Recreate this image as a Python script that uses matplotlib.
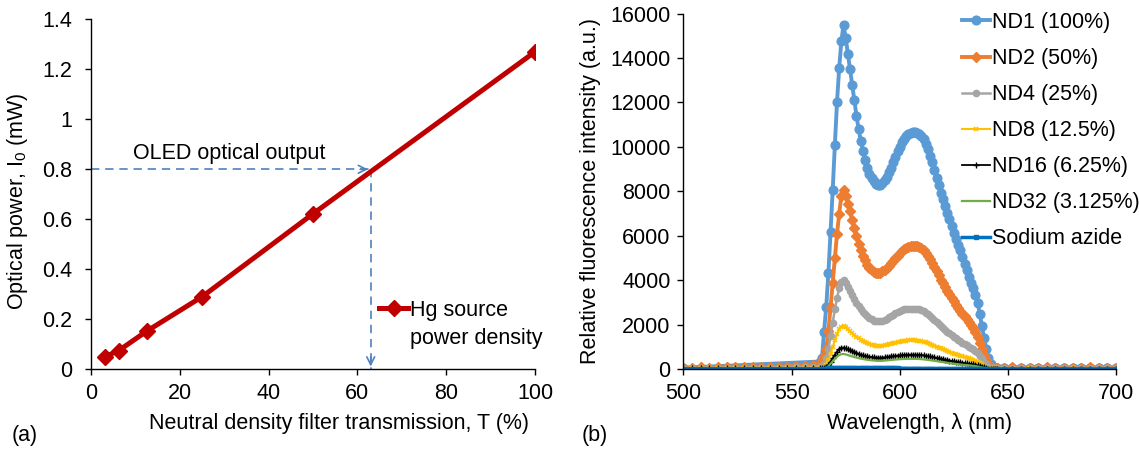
import numpy as np
import matplotlib
matplotlib.use("Agg")
from matplotlib import pyplot as plt

plt.rcParams['font.family'] = ['Liberation Sans', 'DejaVu Sans']
plt.rcParams['mathtext.fontset'] = 'custom'
plt.rcParams['mathtext.rm'] = 'Liberation Sans'
plt.rcParams['font.size'] = 15.5

# (a) optical power vs ND filter transmission
transmission = [3.125, 6.25, 12.5, 25, 50, 100]
power_mw = [0.05, 0.075, 0.152, 0.29, 0.622, 1.27]
oled_power = 0.8
oled_transmission = 63

# (b) fluorescence spectra, 1 nm steps across the emission band
wl_band = np.arange(563, 646)
wl_left = [500, 504, 508, 512, 516, 520, 524, 528, 532, 536, 540, 544, 548, 552, 556, 560]
wl_right = [648, 652, 656, 660, 664, 668, 672, 676, 680, 684, 688, 692, 696, 700]

nd1_band = [350, 490, 1690, 2810, 4330, 6170, 8070, 10100, 12040, 13560, 14760, 15500, 14900,
            14200, 13500, 12800, 12100, 11400, 10800, 10250, 9800, 9400, 9050, 8800, 8600, 8450,
            8330, 8280, 8300, 8380, 8500, 8650, 8850, 9050, 9300, 9550, 9800, 10000, 10200, 10350,
            10480, 10560, 10620, 10650, 10650, 10640, 10600, 10500, 10350, 10150, 9900, 9600, 9300,
            8950, 8600, 8300, 7950, 7650, 7350, 7050, 6750, 6450, 6150, 5850, 5600, 5350, 5050,
            4750, 4450, 4150, 3900, 3650, 3350, 3000, 2500, 1950, 1400, 900, 500, 250, 120, 80, 70]
nd2_band = [250, 420, 600, 900, 1700, 2800, 3900, 5000, 6100, 7000, 7800, 8050, 7800, 7450, 7100,
            6700, 6350, 6000, 5650, 5350, 5100, 4900, 4700, 4550, 4450, 4380, 4340, 4320, 4340,
            4400, 4470, 4550, 4650, 4760, 4880, 5000, 5110, 5220, 5320, 5400, 5460, 5510, 5540,
            5550, 5550, 5530, 5500, 5440, 5360, 5250, 5110, 4950, 4780, 4600, 4410, 4220, 4030,
            3900, 3720, 3540, 3370, 3210, 3050, 2900, 2750, 2620, 2500, 2380, 2260, 2130, 1990,
            1840, 1660, 1450, 1200, 930, 650, 400, 200, 110, 80, 70, 70]
nd4_band = [120, 160, 250, 500, 900, 1500, 2100, 2700, 3200, 3650, 3920, 4000, 3880, 3700, 3520,
            3340, 3160, 3000, 2840, 2700, 2580, 2470, 2380, 2300, 2240, 2190, 2160, 2150, 2160,
            2190, 2230, 2280, 2340, 2400, 2460, 2520, 2570, 2620, 2660, 2690, 2710, 2720, 2730,
            2730, 2720, 2710, 2690, 2650, 2600, 2540, 2470, 2390, 2310, 2220, 2130, 2040, 1950,
            1860, 1770, 1690, 1610, 1530, 1460, 1390, 1320, 1260, 1200, 1140, 1080, 1020, 960,
            900, 830, 740, 620, 490, 350, 220, 120, 70, 60, 50, 50]
nd8_band = [60, 80, 110, 200, 400, 700, 1000, 1300, 1580, 1800, 1920, 1950, 1890, 1800, 1710,
            1620, 1540, 1460, 1390, 1320, 1260, 1210, 1170, 1130, 1100, 1080, 1060, 1050, 1055,
            1065, 1080, 1100, 1125, 1150, 1175, 1200, 1225, 1245, 1265, 1280, 1290, 1300, 1305,
            1305, 1300, 1295, 1285, 1265, 1240, 1210, 1175, 1140, 1100, 1060, 1020, 980, 940, 900,
            860, 820, 780, 745, 710, 675, 640, 610, 580, 550, 520, 490, 460, 430, 395, 350, 290,
            230, 160, 100, 60, 40, 35, 30, 30]
nd16_band = [40, 50, 60, 100, 200, 350, 500, 660, 800, 910, 970, 980, 950, 900, 855, 810, 770,
             730, 695, 660, 630, 605, 585, 565, 550, 540, 530, 525, 525, 530, 540, 550, 565, 580,
             595, 610, 620, 630, 640, 648, 654, 658, 660, 660, 658, 655, 650, 640, 628, 612, 595,
             577, 558, 538, 518, 497, 476, 455, 435, 415, 395, 376, 358, 340, 323, 307, 291, 276,
             261, 247, 233, 218, 200, 178, 150, 118, 85, 55, 35, 25, 20, 20, 20]
nd32_band = [30, 35, 45, 75, 140, 250, 360, 470, 570, 640, 680, 690, 670, 640, 610, 580, 550,
             525, 500, 480, 460, 443, 428, 415, 405, 397, 390, 386, 386, 389, 394, 401, 410, 420,
             430, 439, 447, 454, 460, 465, 468, 470, 471, 471, 470, 467, 463, 456, 447, 436, 424,
             410, 396, 381, 366, 351, 336, 321, 306, 292, 278, 265, 252, 240, 228, 217, 206, 196,
             186, 176, 166, 155, 142, 126, 106, 84, 60, 40, 25, 18, 15, 15, 15]
azide_band = [20, 22, 25, 30, 40, 50, 58, 65, 70, 74, 76, 76, 74, 70, 66, 62, 58, 55, 52, 50, 48,
              46, 44, 43, 42, 41, 40, 40, 40, 39, 39, 38, 38, 37, 37, 36, 36, 35, 35, 35, 34, 34,
              34, 33, 33, 33, 32, 32, 31, 31, 30, 30, 29, 29, 28, 28, 27, 27, 26, 26, 25, 25, 24,
              24, 23, 23, 22, 22, 21, 21, 20, 20, 20, 19, 19, 18, 18, 17, 17, 16, 16, 15, 15]

nd2_left = [80, 78, 82, 80, 84, 86, 88, 90, 94, 98, 104, 112, 124, 140, 165, 200]
nd4_left = [60, 58, 60, 62, 60, 62, 64, 64, 66, 68, 70, 74, 78, 84, 92, 105]
nd8_left = [50, 48, 50, 50, 52, 50, 52, 52, 54, 54, 55, 56, 56, 57, 58, 58]
nd16_left = [40, 38, 40, 40, 42, 40, 42, 40, 42, 42, 40, 42, 42, 40, 40, 40]
nd32_left = [30, 30, 28, 30, 30, 28, 30, 30, 30, 28, 30, 30, 30, 30, 30, 30]
azide_left = [20, 20, 18, 20, 20, 18, 20, 20, 20, 18, 20, 20, 18, 20, 20, 20]

nd1_right = [70, 72, 70, 68, 70, 72, 70, 68, 70, 70, 72, 70, 68, 70]
nd2_right = [80, 82, 80, 78, 80, 82, 80, 80, 78, 80, 82, 80, 80, 80]
nd4_right = [55, 55, 52, 55, 54, 55, 52, 55, 55, 54, 52, 55, 55, 55]
nd8_right = [35, 34, 35, 36, 35, 34, 35, 35, 36, 35, 34, 35, 35, 35]
nd16_right = [25, 24, 25, 26, 25, 24, 25, 25, 26, 25, 24, 25, 25, 25]
nd32_right = [18, 18, 17, 18, 18, 17, 18, 18, 18, 17, 18, 18, 18, 18]
azide_right = [15, 15, 14, 15, 15, 14, 15, 15, 15, 14, 15, 15, 15, 15]

series = [
    ("ND1 (100%)", [500] + list(wl_band) + wl_right, [70] + nd1_band + nd1_right,
     dict(color='#5B9BD5', lw=2.8, marker='o', ms=6.3)),
    ("ND2 (50%)", wl_left + list(wl_band) + wl_right, nd2_left + nd2_band + nd2_right,
     dict(color='#ED7D31', lw=2.8, marker='D', ms=5.6)),
    ("ND4 (25%)", wl_left + list(wl_band) + wl_right, nd4_left + nd4_band + nd4_right,
     dict(color='#A5A5A5', lw=1.8, marker='o', ms=4.5)),
    ("ND8 (12.5%)", wl_left + list(wl_band) + wl_right, nd8_left + nd8_band + nd8_right,
     dict(color='#FFC000', lw=1.5, marker='x', ms=3.5, mew=1.2)),
    ("ND16 (6.25%)", wl_left + list(wl_band) + wl_right, nd16_left + nd16_band + nd16_right,
     dict(color='black', lw=1.3, marker='+', ms=4, mew=1)),
    ("ND32 (3.125%)", wl_left + list(wl_band) + wl_right, nd32_left + nd32_band + nd32_right,
     dict(color='#70AD47', lw=1.6)),
    ("Sodium azide", wl_left + list(wl_band) + wl_right, azide_left + azide_band + azide_right,
     dict(color='#0070C0', lw=2.5, marker='s', ms=2.8)),
]

fig = plt.figure(figsize=(11.39, 4.51), dpi=100)
ax1 = fig.add_axes([91 / 1139, 1 - 369.3 / 451, 444 / 1139, 350 / 451])
ax2 = fig.add_axes([683.5 / 1139, 1 - 369.3 / 451, 432.5 / 1139, 355.8 / 451])

for ax in (ax1, ax2):
    for side in ('top', 'right'):
        ax.spines[side].set_visible(False)
    for side in ('left', 'bottom'):
        ax.spines[side].set_linewidth(1.0)
    ax.tick_params(direction='out', length=4, width=1)
    ax.tick_params(axis='x', pad=6)
ax1.tick_params(axis='y', pad=9.5)
ax2.tick_params(axis='y', pad=5.3)

# ---- panel (a)
arrow_col = '#4F81BD'
ax1.plot([0, oled_transmission], [oled_power, oled_power], color=arrow_col, lw=1.2,
         ls=(0, (5, 3.5)), clip_on=False)
ax1.plot([oled_transmission, oled_transmission], [oled_power, 0], color=arrow_col, lw=1.2,
         ls=(0, (5, 3.5)), clip_on=False)
ax1.annotate('', xy=(oled_transmission, oled_power), xytext=(oled_transmission - 3, oled_power),
             arrowprops=dict(arrowstyle='->', color=arrow_col, lw=1.2, mutation_scale=14))
ax1.annotate('', xy=(oled_transmission, 0), xytext=(oled_transmission, 0.06),
             arrowprops=dict(arrowstyle='->', color=arrow_col, lw=1.2, mutation_scale=14))

ax1.plot(transmission, power_mw, color='#C00000', lw=3.6, marker='D', ms=8.5,
         label='Hg source', zorder=3)
ax1.text(9.5, 0.84, 'OLED optical output', ha='left', va='baseline')

ax1.set_xlim(0, 100)
ax1.set_ylim(0, 1.4)
ax1.set_xticks([0, 20, 40, 60, 80, 100])
ax1.set_yticks([0, 0.2, 0.4, 0.6, 0.8, 1, 1.2, 1.4])
ax1.set_yticklabels(['0', '0.2', '0.4', '0.6', '0.8', '1', '1.2', '1.4'])
ax1.set_xlabel('Neutral density filter transmission, T (%)')
ax1.xaxis.set_label_coords(0.559, -0.125)
ax1.set_ylabel('Optical power, I$_\\mathregular{0}$ (mW)')
ax1.yaxis.set_label_coords(-0.137, 0.479)

ax1.legend(loc='upper left', bbox_to_anchor=(379 / 1139, 1 - 300 / 451),
           bbox_transform=fig.transFigure, frameon=False, borderpad=0,
           borderaxespad=0, handlelength=1.35, handletextpad=0.08)
ax1.text(410 / 1139, 1 - 344 / 451, 'power density', transform=fig.transFigure,
         ha='left', va='baseline')

# ---- panel (b)
for label, x, y, style in series:
    ax2.plot(x, y, label=label, **style)

ax2.set_xlim(500, 700)
ax2.set_ylim(0, 16000)
ax2.set_xticks([500, 550, 600, 650, 700])
ax2.set_yticks(range(0, 16001, 2000))
ax2.set_xlabel('Wavelength, λ (nm)')
ax2.xaxis.set_label_coords(0.545, -0.123)
ax2.set_ylabel('Relative fluorescence intensity (a.u.)')
ax2.yaxis.set_label_coords(-0.191, 0.5)

ax2.legend(loc='upper left', bbox_to_anchor=(962 / 1139, 1 - 12 / 451),
           bbox_transform=fig.transFigure, frameon=False, borderpad=0,
           borderaxespad=0, handlelength=1.3, handletextpad=0.08, labelspacing=0.70)

fig.text(12 / 1139, 1 - 435 / 451, '(a)', ha='left', va='center')
fig.text(582 / 1139, 1 - 435 / 451, '(b)', ha='left', va='center')

fig.savefig('out.png', dpi=100)
